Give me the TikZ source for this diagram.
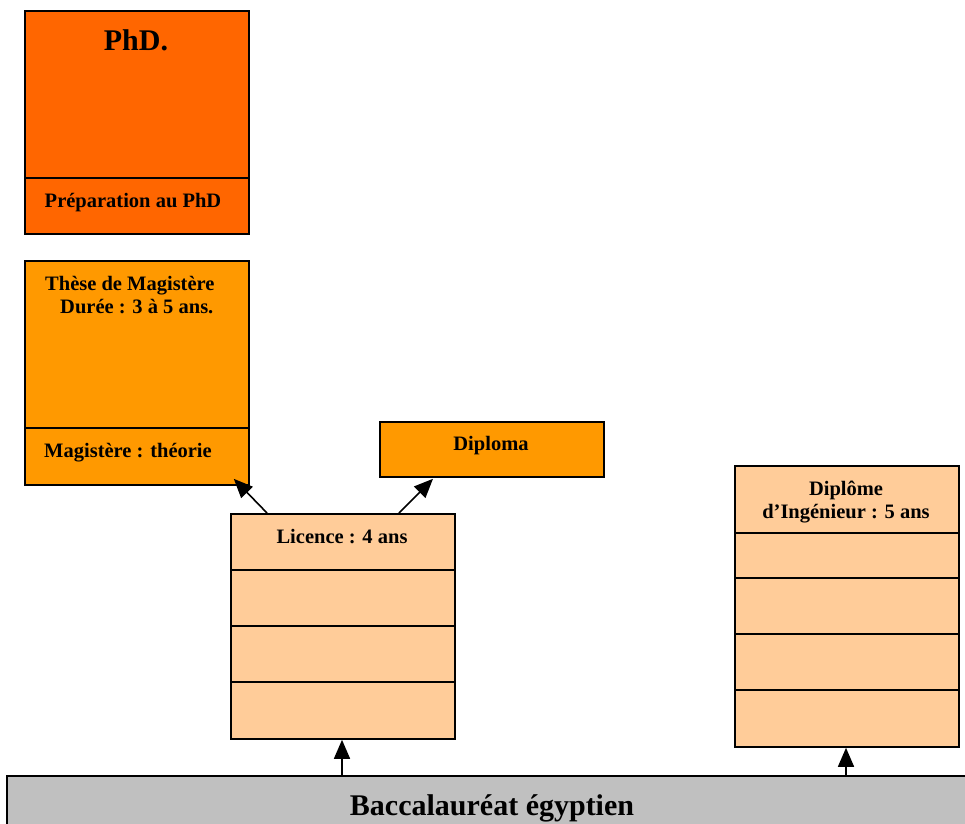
\documentclass[tikz,border=0pt]{standalone}
\usepackage{fontspec}
\setmainfont{Liberation Serif}
\usetikzlibrary{arrows.meta,calc}
\definecolor{phdc}{HTML}{FF6600}
\definecolor{magc}{HTML}{FF9900}
\definecolor{licc}{HTML}{FFCC99}
\definecolor{bacc}{HTML}{C0C0C0}
\begin{document}
\begin{tikzpicture}[x=1pt,y=-1pt,
  box/.style={draw=black, line width=1.8pt, inner sep=0pt, anchor=north west, minimum width=224pt},
  divl/.style={line width=1.9pt},
  lbl/.style={font=\bfseries\fontsize{20.5}{24}\selectfont, inner sep=0pt, anchor=base},
  big/.style={font=\bfseries\fontsize{30}{36}\selectfont, inner sep=0pt, anchor=base},
  arr/.style={line width=1.6pt, -{Triangle[length=19pt,width=16pt]}}]
\useasboundingbox (0,0) rectangle (965,823);
\fill[white] (0,0) rectangle (965,823);
% PhD
\node[box, fill=phdc, minimum height=223pt] (phd) at (24,10) {};
\draw[divl] (24,178) -- (248,178);
\node[big] (phdt) at (136,50) {PhD.};
\node[lbl] (prep) at (133,207) {Préparation au PhD};
% Magistere
\node[box, fill=magc, minimum height=224pt] (mag) at (24,260) {};
\draw[divl] (24,428) -- (248,428);
\node[lbl, anchor=base west] (th1) at (45,290) {Thèse de Magistère};
\node[lbl, anchor=base west] (th2) at (60,313) {Durée : 3 à 5 ans.};
\node[lbl] (magt) at (128,457) {Magistère : théorie};
% Diploma
\node[box, fill=magc, minimum height=55pt] (dip) at (379,421) {};
\node[lbl] (dipt) at (491,450) {Diploma};
% Licence
\node[box, fill=licc, minimum height=225pt] (lic) at (230,513) {};
\foreach \yy in {570,626,682} \draw[divl] (230,\yy) -- (454,\yy);
\node[lbl] (lict) at (342,543) {Licence : 4 ans};
% Ingenieur
\node[box, fill=licc, minimum height=281pt] (ing) at (734,465) {};
\foreach \yy in {533,578,634,690} \draw[divl] (734,\yy) -- (958,\yy);
\node[lbl] (ing1) at (846,495) {Diplôme};
\node[lbl] (ing2) at (846,518) {d’Ingénieur : 5~ans};
% Bac
\node[box, fill=bacc, minimum width=975pt, minimum height=70pt] (bac) at (6,775) {};
\node[big] (bact) at (492,815) {Baccalauréat égyptien};
% arrows
\coordinate (l1) at ($(lic.north west)+(37,0)$);
\coordinate (l2) at ($(lic.north west)+(169,0)$);
\coordinate (m1) at ($(mag.south east)+(-16,-7)$);
\coordinate (d1) at ($(dip.south west)+(54,1)$);
\draw[arr] (l1) -- (m1);
\draw[arr] (l2) -- (d1);
\coordinate (b1) at ($(bac.north west)+(336,0)$);
\coordinate (b2) at ($(bac.north west)+(840,0)$);
\draw[arr] (b1) -- (b1 |- lic.south);
\draw[arr] (b2) -- (b2 |- ing.south);
\end{tikzpicture}
\end{document}
